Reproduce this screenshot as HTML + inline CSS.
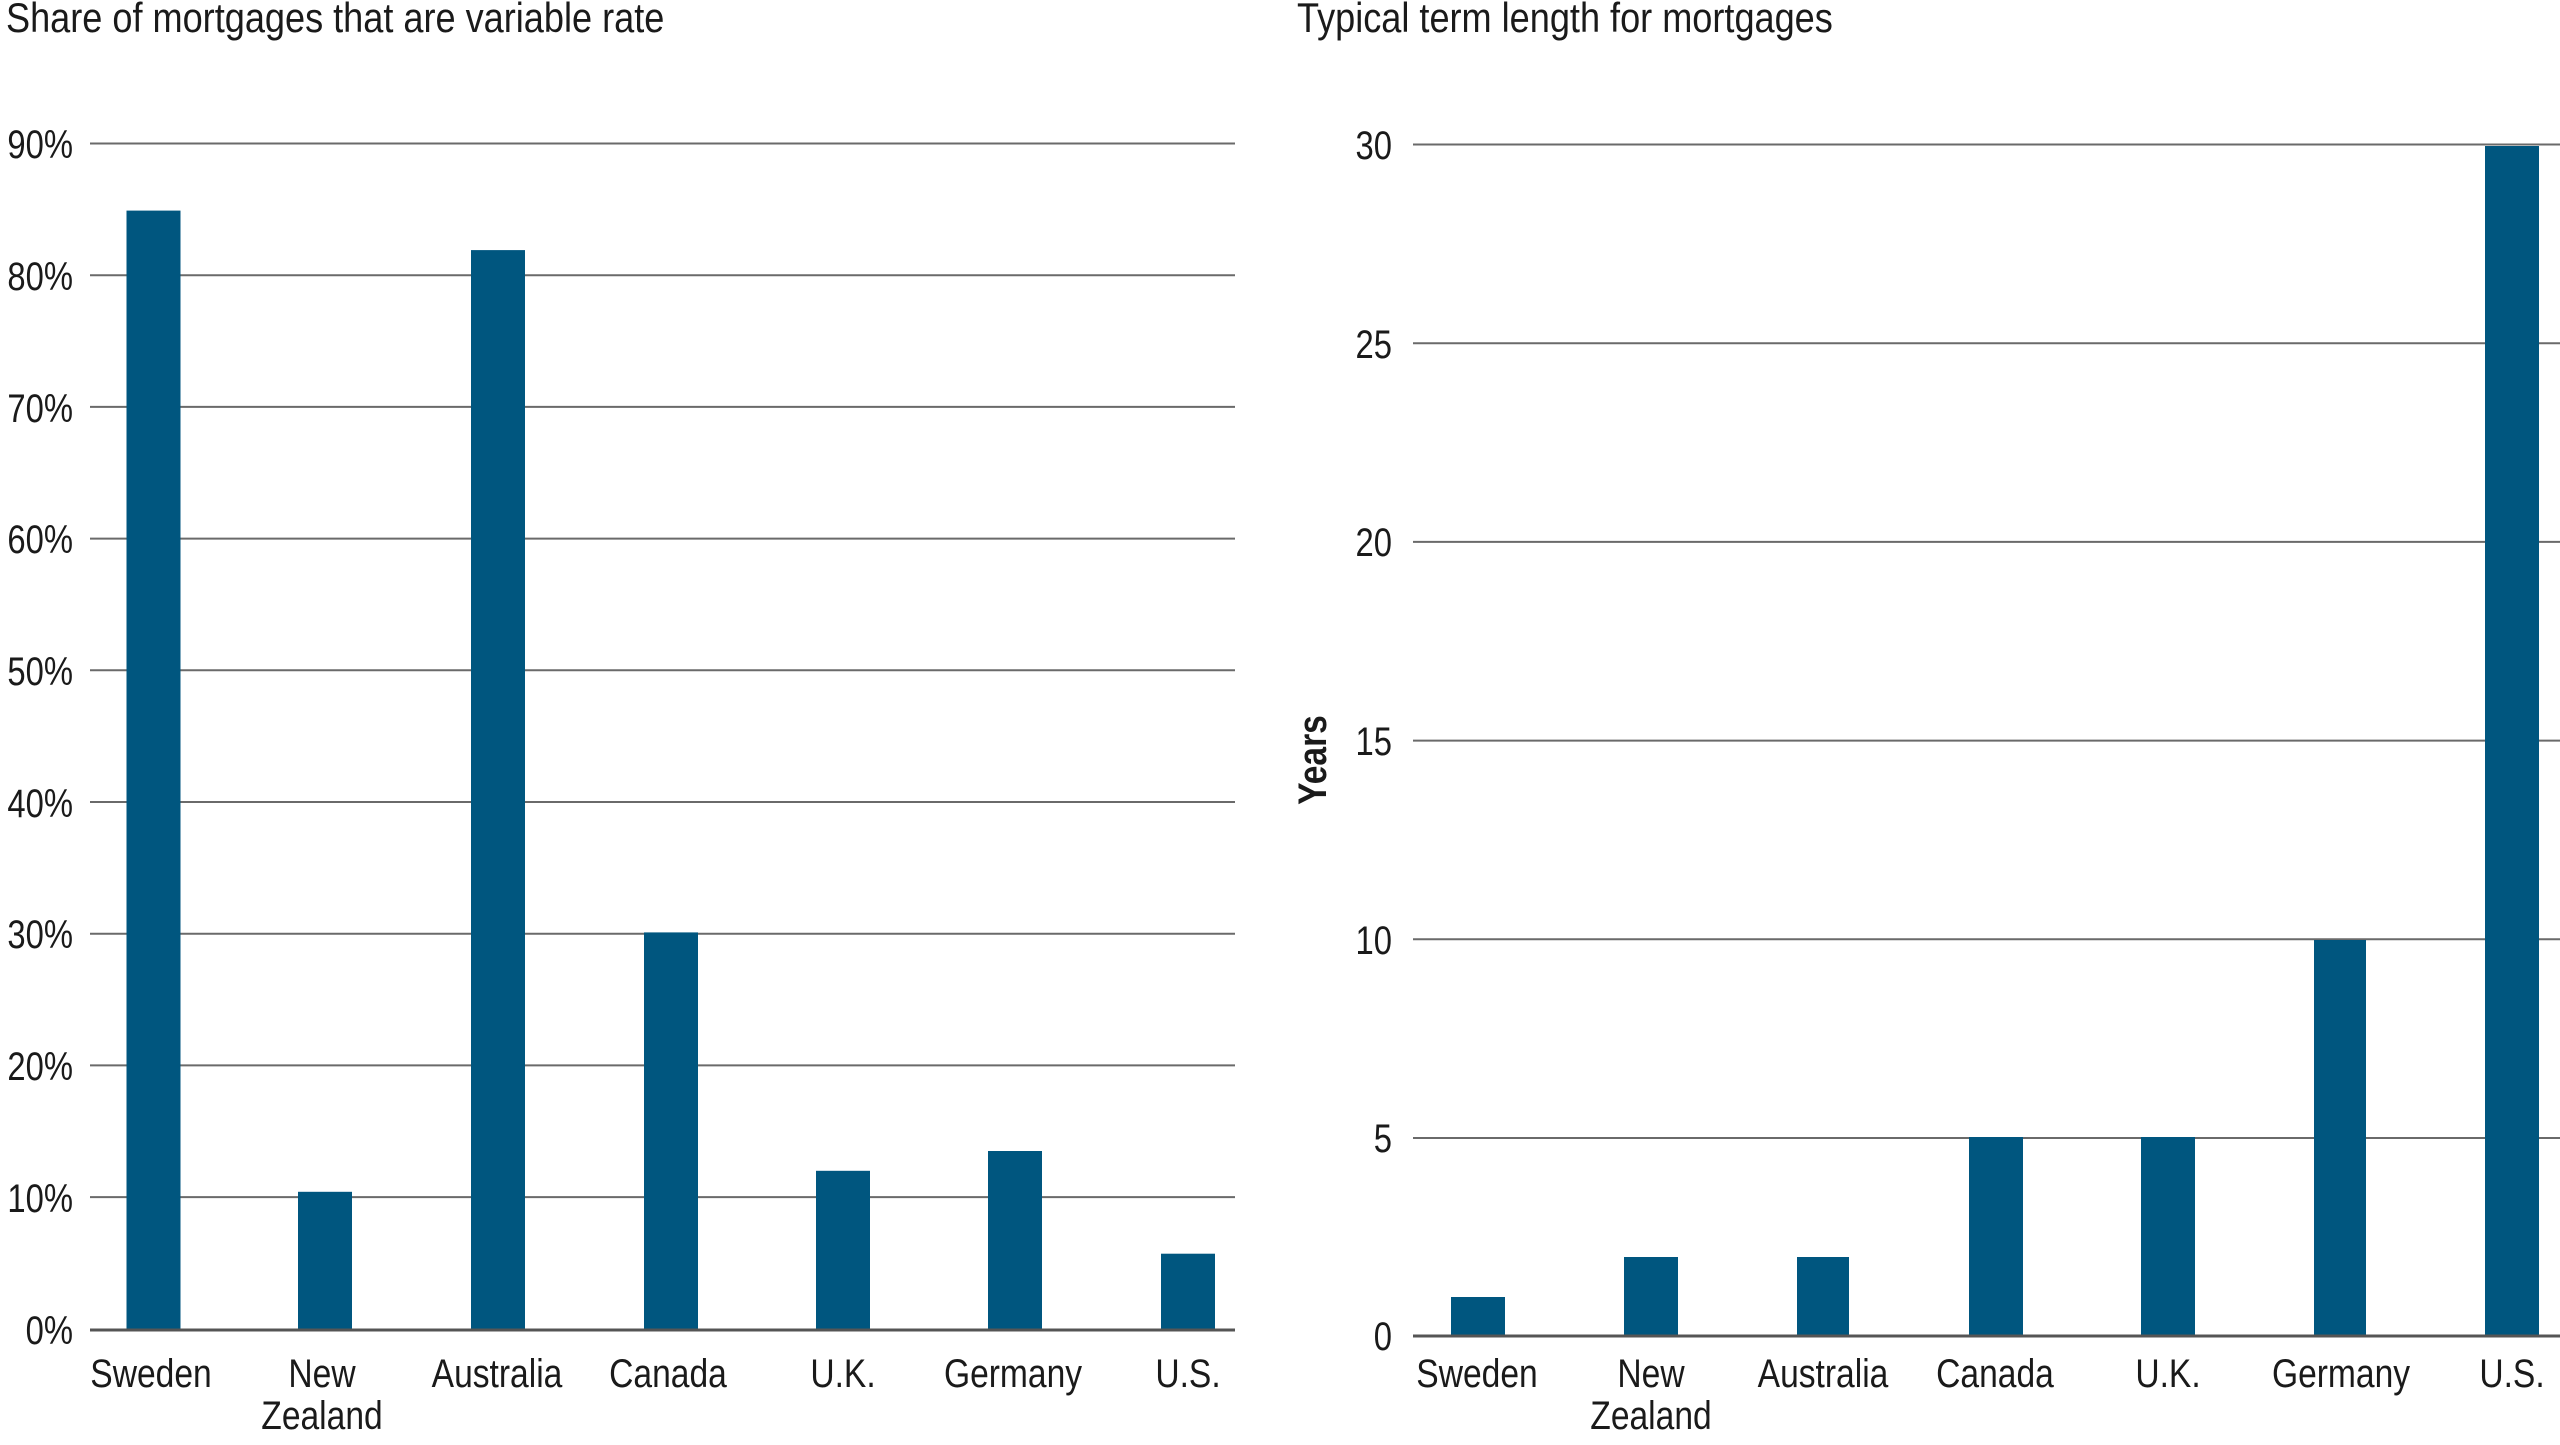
<!DOCTYPE html>
<html><head><meta charset="utf-8"><style>
html,body{margin:0;padding:0;background:#fff}
svg text{font-family:"Liberation Sans Narrow","Liberation Sans",sans-serif;fill:#1a1a1a;font-size:40px}
</style></head><body>
<svg width="2560" height="1440" viewBox="0 0 2560 1440" xmlns="http://www.w3.org/2000/svg">
<text transform="translate(6,32) scale(0.86,1)" style="font-size:42px">Share of mortgages that are variable rate</text>
<text transform="translate(1297,32) scale(0.86,1)" style="font-size:42px">Typical term length for mortgages</text>
<!-- left chart -->
<g stroke="#6a6a6a" stroke-width="2">
<line x1="90" x2="1235" y1="143.5" y2="143.5"/>
<line x1="90" x2="1235" y1="275.2" y2="275.2"/>
<line x1="90" x2="1235" y1="406.9" y2="406.9"/>
<line x1="90" x2="1235" y1="538.6" y2="538.6"/>
<line x1="90" x2="1235" y1="670.3" y2="670.3"/>
<line x1="90" x2="1235" y1="802" y2="802"/>
<line x1="90" x2="1235" y1="933.7" y2="933.7"/>
<line x1="90" x2="1235" y1="1065.4" y2="1065.4"/>
<line x1="90" x2="1235" y1="1197.1" y2="1197.1"/>
</g>
<g fill="#00567f">
<rect x="126.5" y="210.6" width="54" height="1119.5"/>
<rect x="298" y="1191.8" width="54" height="138.3"/>
<rect x="471" y="250.1" width="54" height="1080"/>
<rect x="644" y="932.4" width="54" height="397.7"/>
<rect x="816" y="1170.8" width="54" height="159.3"/>
<rect x="988" y="1151" width="54" height="179.1"/>
<rect x="1161" y="1253.7" width="54" height="76.4"/>
</g>
<line x1="90" x2="1235" y1="1330" y2="1330" stroke="#555" stroke-width="3"/>
<g text-anchor="end">
<text transform="translate(73,158) scale(0.82,1)">90%</text>
<text transform="translate(73,290) scale(0.82,1)">80%</text>
<text transform="translate(73,422) scale(0.82,1)">70%</text>
<text transform="translate(73,553) scale(0.82,1)">60%</text>
<text transform="translate(73,685) scale(0.82,1)">50%</text>
<text transform="translate(73,817) scale(0.82,1)">40%</text>
<text transform="translate(73,948) scale(0.82,1)">30%</text>
<text transform="translate(73,1080) scale(0.82,1)">20%</text>
<text transform="translate(73,1212) scale(0.82,1)">10%</text>
<text transform="translate(73,1344) scale(0.82,1)">0%</text>
</g>
<g text-anchor="middle">
<text transform="translate(151,1387) scale(0.84,1)">Sweden</text>
<text transform="translate(322,1387) scale(0.84,1)">New</text>
<text transform="translate(322,1429) scale(0.84,1)">Zealand</text>
<text transform="translate(497,1387) scale(0.84,1)">Australia</text>
<text transform="translate(668,1387) scale(0.84,1)">Canada</text>
<text transform="translate(843,1387) scale(0.84,1)">U.K.</text>
<text transform="translate(1013,1387) scale(0.84,1)">Germany</text>
<text transform="translate(1188,1387) scale(0.84,1)">U.S.</text>
</g>
<!-- right chart -->
<g stroke="#6a6a6a" stroke-width="2">
<line x1="1413" x2="2560" y1="144.5" y2="144.5"/>
<line x1="1413" x2="2560" y1="343.2" y2="343.2"/>
<line x1="1413" x2="2560" y1="541.9" y2="541.9"/>
<line x1="1413" x2="2560" y1="740.6" y2="740.6"/>
<line x1="1413" x2="2560" y1="939.3" y2="939.3"/>
<line x1="1413" x2="2560" y1="1138" y2="1138"/>
</g>
<g fill="#00567f">
<rect x="1451" y="1297" width="54" height="39"/>
<rect x="1624" y="1257" width="54" height="79"/>
<rect x="1797" y="1257" width="52" height="79"/>
<rect x="1969" y="1137" width="54" height="199"/>
<rect x="2141" y="1137" width="54" height="199"/>
<rect x="2314" y="940" width="52" height="396"/>
<rect x="2485" y="146" width="54" height="1190"/>
</g>
<line x1="1413" x2="2560" y1="1336" y2="1336" stroke="#555" stroke-width="3"/>
<g text-anchor="end">
<text transform="translate(1392,159) scale(0.82,1)">30</text>
<text transform="translate(1392,358) scale(0.82,1)">25</text>
<text transform="translate(1392,556) scale(0.82,1)">20</text>
<text transform="translate(1392,755) scale(0.82,1)">15</text>
<text transform="translate(1392,954) scale(0.82,1)">10</text>
<text transform="translate(1392,1152) scale(0.82,1)">5</text>
<text transform="translate(1392,1350) scale(0.82,1)">0</text>
</g>
<text text-anchor="middle" font-weight="bold" transform="translate(1326,760) rotate(-90) scale(0.84,1)">Years</text>
<g text-anchor="middle">
<text transform="translate(1477,1387) scale(0.84,1)">Sweden</text>
<text transform="translate(1651,1387) scale(0.84,1)">New</text>
<text transform="translate(1651,1429) scale(0.84,1)">Zealand</text>
<text transform="translate(1823,1387) scale(0.84,1)">Australia</text>
<text transform="translate(1995,1387) scale(0.84,1)">Canada</text>
<text transform="translate(2168,1387) scale(0.84,1)">U.K.</text>
<text transform="translate(2341,1387) scale(0.84,1)">Germany</text>
<text transform="translate(2512,1387) scale(0.84,1)">U.S.</text>
</g>
</svg>
</body></html>
